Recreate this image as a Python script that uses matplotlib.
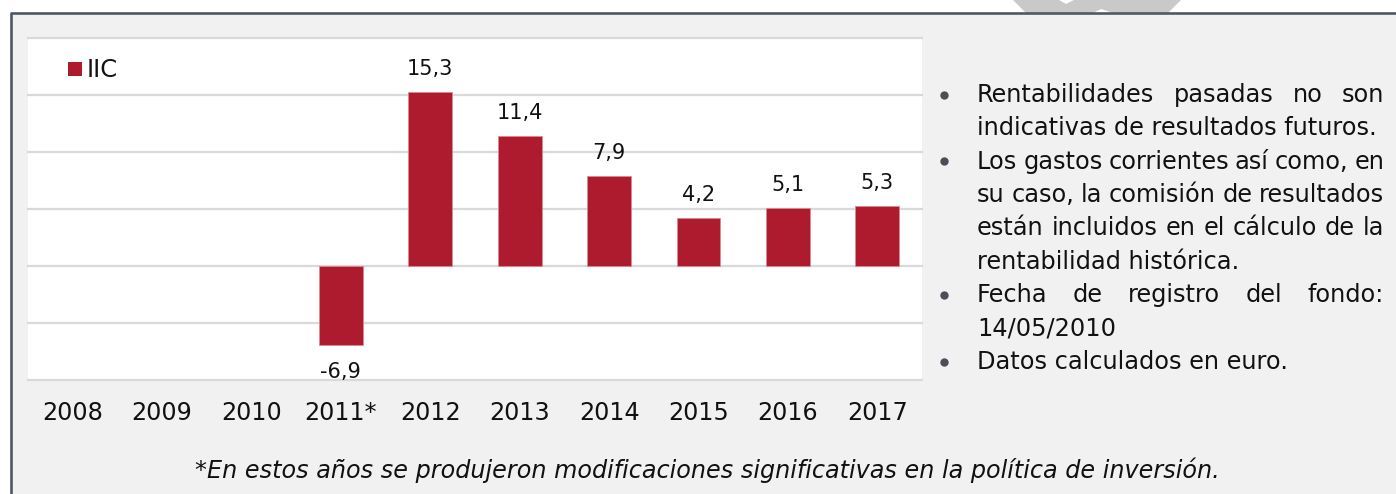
import matplotlib
matplotlib.use("Agg")
import matplotlib.pyplot as plt
from matplotlib.patches import Rectangle, Polygon

plt.rcParams["font.family"] = ["DejaVu Sans"]

# ---- data ----
years = ["2008", "2009", "2010", "2011*", "2012", "2013", "2014", "2015", "2016", "2017"]
values = [None, None, None, -6.9, 15.3, 11.4, 7.9, 4.2, 5.1, 5.3]
series_name = "IIC"
y_ticks = [-10, -5, 0, 5, 10, 15, 20]

note_lines = [
    # (text, bullet?, justified?)
    ("Rentabilidades pasadas no son", True, True),
    ("indicativas de resultados futuros.", False, False),
    ("Los gastos corrientes así como, en", True, True),
    ("su caso, la comisión de resultados", False, True),
    ("están incluidos en el cálculo de la", False, True),
    ("rentabilidad histórica.", False, False),
    ("Fecha de registro del fondo:", True, True),
    ("14/05/2010", False, False),
    ("Datos calculados en euro.", True, False),
]
footer = "*En estos años se produjeron modificaciones significativas en la política de inversión."

# ---- figure ----
W, H = 1396, 494
DPI = 100
fig = plt.figure(figsize=(W / DPI, H / DPI), dpi=DPI)
fig.patch.set_facecolor("white")

BAR = "#AF1B2E"
GRID = "#d9d9d9"
BORDER = "#4f5964"
BG = "#f1f1f1"
TXT = "#111111"

# background axes in pixel coordinates
bg = fig.add_axes([0, 0, 1, 1], zorder=-1)
bg.set_xlim(0, W)
bg.set_ylim(H, 0)
bg.axis("off")
bg.add_patch(Rectangle((11, 14), W - 11, H - 14, facecolor=BG, edgecolor="none"))
bg.add_patch(Polygon([(1013, 0), (1026, 13), (1093, 13), (1101, 9), (1113, 13), (1168, 13),
                      (1181, 0), (1074, 0), (1066, 4), (1059, 0)],
                     closed=True, facecolor="#c9c9c9", edgecolor="none"))
bg.plot([10, W], [13.5, 13.5], color=BORDER, lw=1.9, solid_capstyle="butt")
bg.plot([11, 11], [13, H], color=BORDER, lw=1.9, solid_capstyle="butt")

# chart axes
L, R, T, B = 28, 922, 38, 380
ax = fig.add_axes([L / W, 1 - B / H, (R - L) / W, (B - T) / H], zorder=1)
ax.set_facecolor("white")
x = list(range(len(years)))
ax.set_xlim(-0.5, len(years) - 0.5)
ax.set_ylim(y_ticks[0], y_ticks[-1])
for yv in y_ticks:
    ax.axhline(yv, color=GRID, lw=1.6, zorder=1, clip_on=False)
for s in ax.spines.values():
    s.set_visible(False)
ax.set_yticks([])
ax.set_xticks(x)
ax.set_xticklabels(years, fontsize=17.2, color=TXT)
ax.tick_params(axis="x", length=0, pad=15)

for xi, v in zip(x, values):
    if v is None:
        continue
    ax.bar(xi, v, width=0.49, color=BAR, edgecolor="#d98a94", linewidth=0.6, zorder=2)
    lab = f"{v:.1f}".replace(".", ",")
    off = 16.5 if v >= 0 else -19.5
    ax.annotate(lab, (xi, v), xytext=(0, off), textcoords="offset points",
                ha="center", va="center", fontsize=15, color=TXT)

# overlay axes for legend / notes
ov = fig.add_axes([0, 0, 1, 1], zorder=3)
ov.set_xlim(0, W)
ov.set_ylim(H, 0)
ov.axis("off")
ov.patch.set_alpha(0)

ov.add_patch(Rectangle((68, 62), 14, 14, facecolor=BAR, edgecolor="none"))
ov.text(87, 70, series_name, fontsize=17.5, va="center", ha="left", color=TXT)

# notes with justification
fig.canvas.draw()
renderer = fig.canvas.get_renderer()
NL, NR = 977, 1384
base0, step = 101.7, 33.4
FS = 17.3


def width_of(s):
    t = ov.text(0, 0, s, fontsize=FS)
    w = t.get_window_extent(renderer).width
    t.remove()
    return w


for i, (line, bullet, just) in enumerate(note_lines):
    yb = base0 + step * i
    if bullet:
        ov.plot([944], [yb - 7], marker="o", markersize=5, color="#4a4f57")
    if just:
        words = line.split(" ")
        ws = [width_of(w) for w in words]
        gap = (NR - NL - sum(ws)) / (len(words) - 1)
        xx = NL
        for w, wd in zip(words, ws):
            ov.text(xx, yb, w, fontsize=FS, va="baseline", ha="left", color=TXT)
            xx += wd + gap
    else:
        ov.text(NL, yb, line, fontsize=FS, va="baseline", ha="left", color=TXT)

ov.text(707, 478, footer, fontsize=17.2, style="italic", va="baseline", ha="center",
        color=TXT)

fig.savefig("out.png", dpi=DPI, facecolor=fig.get_facecolor())
